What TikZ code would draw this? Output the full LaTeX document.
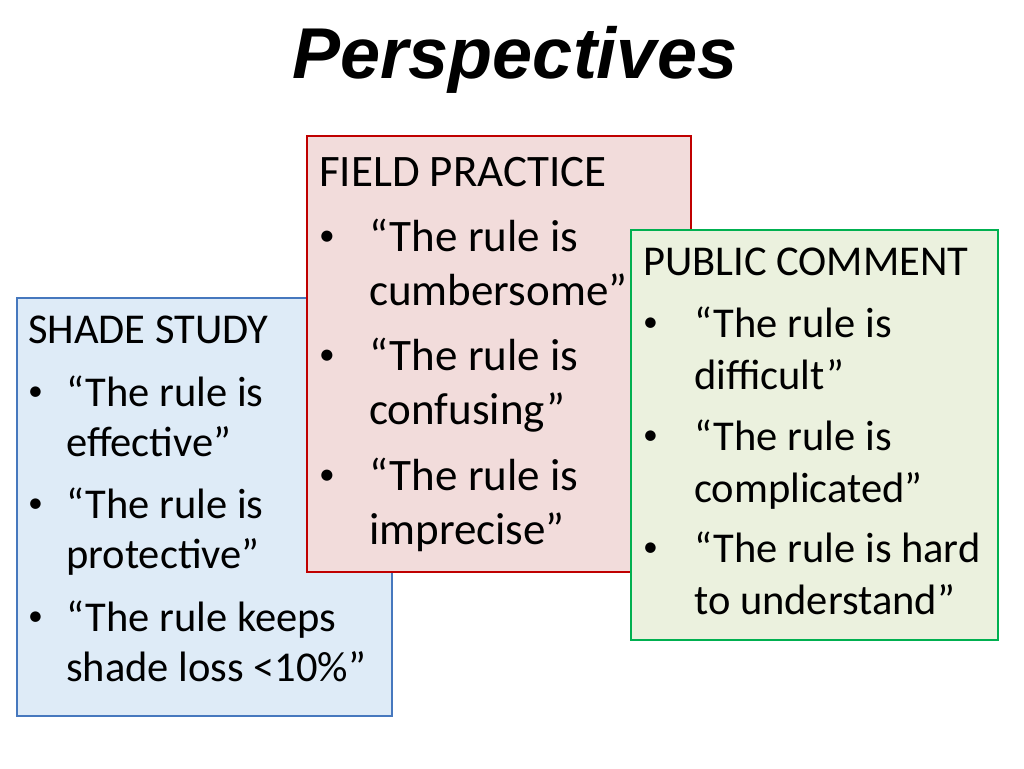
\documentclass[tikz,border=0pt]{standalone}
\usepackage{fontspec}
\setmainfont{Carlito}
\newfontfamily\titlefont{Liberation Sans}
\definecolor{bfill}{RGB}{222,235,247}
\definecolor{bdraw}{RGB}{70,120,190}
\definecolor{rfill}{RGB}{242,220,219}
\definecolor{rdraw}{RGB}{192,0,0}
\definecolor{gfill}{RGB}{235,241,222}
\definecolor{gdraw}{RGB}{0,176,80}
\newcommand{\bul}{\raisebox{0.12em}{\scalebox{0.7}{\textbullet}}}
\begin{document}
\begin{tikzpicture}[x=1pt,y=-1pt,
  box/.style={draw=#1draw,fill=#1fill,line width=2pt},
  big/.style={anchor=base west,inner sep=0pt,font=\fontsize{45}{50}\selectfont},
  mid/.style={anchor=base west,inner sep=0pt,font=\fontsize{42.5}{48}\selectfont}]
\useasboundingbox (0,0) rectangle (1024,768);
\node[font=\titlefont\bfseries\itshape\fontsize{72}{76}\selectfont] (title) at (515,60) {Perspectives};
% blue
\path[box=b] (17,298) rectangle (392,716);
\foreach \t/\x/\y [count=\i] in {SHADE STUDY/28/330, \bul/28/393, “The rule is/66/393, effective”/66/443, \bul/28/505, “The rule is/66/505, protective”/66/555, \bul/28/618, “The rule keeps/66/618, shade loss <10\%”/66/668}
  \node[mid] (b\i) at (\x,\y+13) {\t};
% red
\path[box=r] (307,136) rectangle (691,572);
\foreach \t/\x/\y [count=\i] in {FIELD PRACTICE/319/172, \bul/319/237, “The rule is/369/237, cumbersome”/369/291, \bul/319/356, “The rule is/369/356, confusing”/369/410, \bul/319/476, “The rule is/369/476, imprecise”/369/530}
  \node[big] (r\i) at (\x,\y+14) {\t};
% green
\path[box=g] (631,230) rectangle (998,640);
\foreach \t/\x/\y [count=\i] in {PUBLIC COMMENT/643/262, \bul/643/324, “The rule is/694/324, difficult”/694/376, \bul/643/437, “The rule is/694/437, complicated”/694/489, \bul/643/549, “The rule is hard/694/549, to understand”/694/601}
  \node[mid] (g\i) at (\x,\y+13) {\t};
\end{tikzpicture}
\end{document}
